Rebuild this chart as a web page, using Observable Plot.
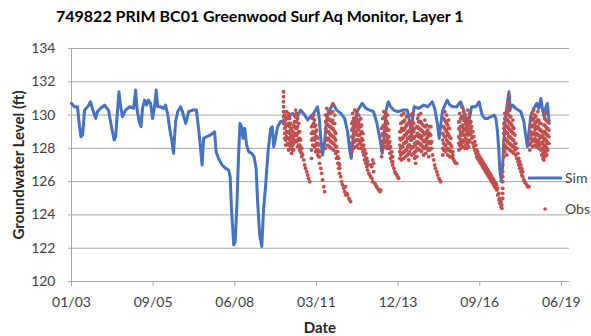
<!DOCTYPE html>
<html>
<head>
<meta charset="utf-8">
<script src="https://cdn.jsdelivr.net/npm/d3@7"></script>
<script src="https://cdn.jsdelivr.net/npm/@observablehq/plot@0.6"></script>
<style>
  html, body { margin: 0; padding: 0; background: #fff; }
  #wrap { position: relative; width: 591px; height: 336px; font-family: Lato, "Open Sans", sans-serif; overflow: hidden; }
  #title { position: absolute; left: 56px; top: 0; height: 30px; line-height: 32px; text-align: left;
           font-weight: bold; font-size: 16px; color: #000; white-space: nowrap; }
  #chart { position: absolute; left: 0; top: 30px; }
  #ylabel { position: absolute; left: 18px; top: 165px; transform: translate(-50%, -50%) rotate(-90deg);
            font-weight: bold; font-size: 15px; color: #262626; white-space: nowrap; }
  #xlabel { position: absolute; left: 320px; top: 327px; transform: translate(-50%, -50%);
            font-weight: bold; font-size: 15px; color: #262626; white-space: nowrap; }
  #legend { position: absolute; left: 527px; top: 170px; }
  #legend text { font-family: Lato, "Open Sans", sans-serif; font-size: 14px; fill: #404040; }
</style>
</head>
<body>
<div id="wrap">
  <div id="title">749822 PRIM BC01 Greenwood Surf Aq Monitor, Layer 1</div>
  <div id="chart"></div>
  <div id="ylabel">Groundwater Level (ft)</div>
  <div id="xlabel">Date</div>
  <div id="legend">
    <svg width="64" height="52">
      <line x1="1" y1="8" x2="35" y2="8" stroke="#4472C4" stroke-width="3"></line>
      <text x="38" y="13">Sim</text>
      <circle cx="18" cy="39" r="1.8" fill="#C0504D"></circle>
      <text x="38" y="44">Obs</text>
    </svg>
  </div>
</div>
<script>
// ---- data (decimal year, groundwater level ft) ----
const seriesNames = ["Sim", "Obs"];
const yTicks = [120, 122, 124, 126, 128, 130, 132, 134];
const xTickLabels = ["01/03", "09/05", "06/08", "03/11", "12/13", "09/16", "06/19"];

const simSeries = [
  [2003.00,130.7],[2003.10,130.5],[2003.20,130.5],[2003.27,129.3],[2003.32,128.7],[2003.37,128.8],
  [2003.44,130.3],[2003.54,130.5],[2003.64,130.8],[2003.70,130.4],[2003.81,129.8],[2003.87,130.2],
  [2003.97,130.4],[2004.11,130.6],[2004.24,130.3],[2004.34,129.3],[2004.43,128.5],[2004.48,128.7],
  [2004.54,130.2],[2004.59,131.4],[2004.64,130.6],[2004.71,129.9],[2004.81,130.3],[2004.95,130.5],
  [2005.08,130.4],[2005.15,131.5],[2005.20,130.3],[2005.27,129.6],[2005.33,129.3],[2005.38,130.4],
  [2005.45,130.9],[2005.52,130.6],[2005.58,130.9],[2005.65,130.7],[2005.72,129.8],[2005.79,130.6],
  [2005.84,131.5],[2005.89,130.5],[2005.99,130.5],[2006.09,130.4],[2006.15,130.6],[2006.22,130.1],
  [2006.29,129.2],[2006.36,128.5],[2006.42,127.7],[2006.49,129.6],[2006.56,130.2],[2006.66,130.5],
  [2006.72,130.2],[2006.83,129.5],[2006.93,130.2],[2007.06,130.3],[2007.19,130.3],[2007.28,128.9],
  [2007.38,127.0],[2007.43,128.6],[2007.53,128.7],[2007.66,128.8],[2007.80,129.0],[2007.85,127.8],
  [2007.93,127.4],[2008.05,127.0],[2008.17,126.8],[2008.27,126.7],[2008.32,126.3],[2008.37,124.2],
  [2008.44,122.2],[2008.49,122.4],[2008.55,124.8],[2008.60,127.5],[2008.65,129.5],[2008.70,129.3],
  [2008.75,128.6],[2008.81,129.2],[2008.87,128.2],[2008.94,127.8],[2009.04,127.7],[2009.12,127.5],
  [2009.19,126.8],[2009.24,124.8],[2009.31,122.8],[2009.38,122.1],[2009.44,124.3],[2009.51,125.8],
  [2009.59,127.8],[2009.68,129.2],[2009.73,129.3],[2009.78,128.1],[2009.84,128.6],[2009.91,129.3],
  [2010.01,129.6],[2010.15,129.7],[2010.28,129.9],[2010.42,130.1],[2010.55,129.8],[2010.68,130.3],
  [2010.82,130.0],[2010.92,129.7],[2011.02,129.9],[2011.12,130.1],[2011.25,130.5],[2011.31,129.8],
  [2011.36,128.6],[2011.42,127.6],[2011.49,128.4],[2011.57,129.9],[2011.66,130.3],[2011.77,130.7],
  [2011.89,130.3],[2012.03,130.1],[2012.16,129.8],[2012.26,129.0],[2012.33,127.9],[2012.38,127.4],
  [2012.43,128.3],[2012.50,129.6],[2012.60,130.3],[2012.75,130.7],[2012.87,130.4],[2013.00,130.3],
  [2013.13,130.2],[2013.23,129.6],[2013.34,128.6],[2013.42,127.7],[2013.49,128.8],[2013.55,130.3],
  [2013.62,130.8],[2013.70,130.5],[2013.81,130.3],[2013.94,130.2],[2014.11,130.3],[2014.26,130.3],
  [2014.34,129.6],[2014.40,128.7],[2014.44,129.8],[2014.49,130.5],[2014.64,130.4],[2014.81,130.6],
  [2014.95,130.5],[2015.10,130.8],[2015.18,130.4],[2015.27,129.5],[2015.33,128.6],[2015.38,129.4],
  [2015.45,130.3],[2015.60,130.9],[2015.69,130.6],[2015.79,130.5],[2015.92,130.5],[2016.05,130.8],
  [2016.15,130.3],[2016.27,129.1],[2016.34,129.8],[2016.42,130.5],[2016.56,130.5],[2016.67,130.8],
  [2016.77,130.0],[2016.86,129.8],[2016.96,129.8],[2017.06,129.9],[2017.17,130.0],[2017.23,129.8],
  [2017.28,129.1],[2017.33,127.9],[2017.36,126.8],[2017.41,126.0],[2017.46,127.0],[2017.53,129.5],
  [2017.60,130.5],[2017.67,131.4],[2017.71,130.4],[2017.79,130.6],[2017.90,130.4],[2018.07,130.2],
  [2018.17,129.6],[2018.23,128.8],[2018.29,128.1],[2018.33,128.8],[2018.40,129.9],[2018.50,130.4],
  [2018.60,130.7],[2018.67,130.4],[2018.74,131.0],[2018.79,130.4],[2018.85,129.9],[2018.91,130.5],
  [2018.96,130.7],[2019.02,129.5]
];

const obsColumns = [
  // 2010 cycle
  [2010.11,[131.4,131.1,130.8,130.5,130.2,129.9,129.5]],
  [2010.15,[130.0,129.6,129.2,128.9,128.6]],[2010.18,[129.7,129.3,128.9,128.5,128.2]],
  [2010.21,[130.2,129.8,129.4,129.0,128.7]],[2010.25,[129.9,129.4,129.0,128.6,128.3]],
  [2010.28,[130.1,129.8,129.5,129.0,128.6,128.2,127.9]],[2010.32,[129.8,129.3,128.9,128.5,128.2]],
  [2010.35,[129.5,129.1,128.7,128.3,128.0]],[2010.38,[129.2,128.8,128.4,128.0,127.7]],
  [2010.42,[129.0,128.6,128.2,127.9]],[2010.45,[129.4,128.7,128.3,127.9]],
  [2010.48,[130.0,129.6,129.3,128.9,128.5]],[2010.52,[130.3,129.9,129.6,129.2,128.8]],
  [2010.55,[130.1,129.6,129.2,128.8,128.4]],[2010.58,[129.8,129.3,128.9,128.5,128.1]],
  [2010.62,[129.5,129.0,128.6,128.2]],[2010.65,[129.0,128.6,128.2,127.9]],
  [2010.68,[128.5,128.1,127.8]],[2010.72,[128.0,127.7,127.5]],[2010.75,[127.6]],
  [2010.79,[127.3]],[2010.82,[127.0]],[2010.85,[126.8]],[2010.89,[126.6]],[2010.92,[126.4]],
  [2010.95,[126.2]],[2010.99,[126.0]],
  // 2011 spring
  [2011.05,[127.4,127.9,128.5,128.9,129.3]],[2011.09,[128.2,128.6,129.0,129.4,129.8]],
  [2011.12,[128.6,129.0,129.5,130.0]],[2011.15,[128.1,128.5,128.9,129.3,129.7]],
  [2011.19,[127.8,128.2,128.7,129.0,129.4]],[2011.22,[127.9,128.3,128.7,129.1]],
  [2011.26,[127.6,127.9,128.3,128.6]],[2011.29,[127.5,127.8,128.2]],[2011.32,[127.1,127.5,127.8]],
  [2011.36,[126.8]],[2011.39,[126.5]],[2011.42,[126.1]],[2011.46,[125.7]],[2011.49,[125.4]],
  // 2011-2012
  [2011.52,[128.0,128.6,129.2,129.6,130.0]],[2011.56,[128.5,129.0,129.6,130.0,130.4]],
  [2011.59,[128.2,128.6,129.0,129.4,129.8]],[2011.62,[128.6,129.0,129.4,129.8,130.2]],
  [2011.66,[128.1,128.5,128.9,129.3,129.7]],[2011.69,[128.4,128.8,129.3,129.7,130.1]],
  [2011.72,[128.0,128.4,128.8,129.2,129.6]],[2011.76,[128.3,128.7,129.2,129.7,130.2,130.6]],
  [2011.79,[127.9,128.3,128.7,129.1,129.5]],[2011.83,[128.2,128.6,129.0,129.5,130.0]],
  [2011.86,[127.7,128.1,128.5,128.9]],[2011.89,[127.4,127.8,128.1]],[2011.93,[127.1,127.5,127.8]],
  [2011.96,[126.8,127.1,127.4]],[2011.99,[126.5,126.8,127.0]],[2012.03,[126.3]],
  [2012.06,[126.0]],[2012.09,[125.8]],[2012.13,[125.6]],[2012.16,[125.4]],[2012.19,[125.2,125.7]],
  [2012.23,[125.3]],[2012.26,[125.2]],[2012.30,[125.0]],[2012.33,[124.9]],[2012.36,[124.8]],
  // 2012-2013
  [2012.40,[127.8,128.3,128.7,129.1,129.5]],[2012.43,[128.3,128.7,129.2,129.6,130.1]],
  [2012.46,[128.0,128.4,128.9,129.3,129.8]],[2012.50,[128.4,128.8,129.3,129.8,130.3]],
  [2012.53,[128.1,128.5,129.0,129.4,129.7]],[2012.56,[128.5,128.9,129.4,129.8,130.2]],
  [2012.60,[128.2,128.5,128.8,129.2,129.6]],[2012.63,[128.0,128.5,129.1,129.5,130.0]],
  [2012.66,[128.3,128.8,129.3,129.7]],[2012.70,[128.0,128.4,128.9,129.3,129.8]],
  [2012.73,[128.2,128.6,129.0,129.4]],[2012.77,[127.8,128.1,128.5,128.9]],
  [2012.80,[127.6,127.9,128.2]],[2012.83,[127.3,127.6,127.9]],[2012.87,[127.1,127.4,127.7]],
  [2012.90,[126.9,127.1,127.4]],[2012.93,[126.7,127.0,127.2]],[2012.97,[126.5]],[2013.00,[126.4]],
  [2013.03,[126.3,127.0]],[2013.07,[126.2,126.9]],[2013.10,[126.0,127.3]],[2013.13,[126.6,127.1]],
  [2013.17,[125.9]],[2013.20,[125.8]],[2013.23,[125.7]],[2013.27,[125.6]],[2013.30,[125.5]],
  [2013.34,[125.4]],[2013.37,[125.5]],
  // 2013
  [2013.40,[127.5,127.9,128.4,128.8,129.2]],[2013.44,[128.0,128.4,128.9,129.3,129.8]],
  [2013.47,[128.3,128.8,129.4,129.8,130.2]],[2013.50,[128.1,128.5,129.0,129.4,129.9]],
  [2013.54,[128.4,128.8,129.3,129.7,130.1]],[2013.57,[128.0,128.4,128.8,129.2,129.6]],
  [2013.60,[128.2,128.6,129.1,129.5,130.0]],[2013.64,[128.0,128.3,128.7,129.1]],
  [2013.67,[127.7,128.0,128.4]],[2013.70,[127.4,127.7,128.1]],[2013.74,[127.2,127.5,127.8]],
  [2013.77,[127.0,127.2,127.5]],[2013.81,[126.8]],[2013.84,[126.6]],[2013.87,[126.5]],
  [2013.91,[126.4]],[2013.94,[126.3]],[2013.97,[126.2]],
  // 2014-2015
  [2014.01,[127.4,127.8,128.2,128.6,129.0]],[2014.04,[127.6,128.0,128.5,129.0,129.5]],
  [2014.07,[127.3,127.7,128.1,128.6,129.2,130.0]],[2014.11,[127.7,128.1,128.6,129.1,129.6]],
  [2014.14,[127.4,127.8,128.3,128.7,129.1,129.6,130.1]],[2014.17,[127.8,128.3,128.8,129.2,129.7]],
  [2014.21,[127.5,127.9,128.4,128.8,129.3]],[2014.24,[127.9,128.4,128.9,129.4,129.9]],
  [2014.27,[127.6,128.1,128.6,129.0,129.5]],[2014.31,[127.3,127.7,128.2,128.6,129.0]],
  [2014.34,[127.8,128.2,128.7,129.1,129.6]],[2014.38,[128.0,128.5,129.0,129.5,130.0]],
  [2014.41,[127.6,128.0,128.5,128.9,129.4]],[2014.44,[128.1,128.6,129.1,129.6,130.1]],
  [2014.48,[127.7,128.1,128.6,129.0,129.5]],[2014.51,[127.4,127.8,128.3,128.7,129.2]],
  [2014.54,[127.1,127.5,127.8,128.2]],[2014.58,[127.5,127.9,128.4,128.8,129.3]],
  [2014.61,[128.0,128.4,128.9,129.3,129.8]],[2014.64,[128.3,128.7,129.2,129.6,130.0]],
  [2014.68,[127.9,128.3,128.8,129.2,129.6]],[2014.71,[128.2,128.6,129.1,129.6,130.1]],
  [2014.74,[127.8,128.2,128.7,129.1,129.5]],[2014.78,[128.1,128.5,129.0,129.4]],
  [2014.81,[127.6,128.0,128.4,128.8]],[2014.85,[128.0,128.4,128.9,129.3,129.7]],
  [2014.88,[127.7,128.1,128.5,128.9,129.3]],[2014.91,[128.2,128.6,129.0,129.4]],
  [2014.95,[127.9,128.3,128.7,129.1]],[2014.98,[127.5,128.0,128.4,128.8]],
  [2015.01,[127.9,128.4,128.9,129.3]],[2015.05,[128.3,128.8,129.3]],[2015.08,[128.0,128.4]],
  [2015.11,[127.6]],[2015.15,[127.3]],[2015.18,[127.0]],[2015.21,[126.8]],[2015.25,[126.6]],
  [2015.28,[126.4]],[2015.32,[126.2]],[2015.35,[126.1]],[2015.38,[126.0]],
  // 2015
  [2015.45,[127.6,128.0,128.5,128.9,129.3]],[2015.48,[127.9,128.3,128.8,129.3,129.8]],
  [2015.52,[128.2,128.7,129.2,129.7,130.2]],[2015.55,[127.8,128.2,128.7,129.1,129.6]],
  [2015.58,[128.0,128.5,129.0,129.5,130.0]],[2015.62,[127.6,128.0,128.4,128.9,129.4]],
  [2015.65,[127.9,128.3,128.8,129.2,129.7]],[2015.68,[127.5,127.9,128.3,128.7,129.2]],
  [2015.72,[127.8,128.2,128.6]],[2015.75,[127.5,127.8,128.1]],[2015.79,[127.4,127.6,127.8]],
  [2015.82,[127.3]],[2015.85,[127.2]],[2015.89,[127.1]],[2015.92,[127.1]],
  // 2016-2017
  [2015.99,[127.9,128.3,128.7,129.2,129.6]],[2016.02,[128.2,128.6,129.1,129.6,130.1]],
  [2016.05,[128.0,128.4,128.9,129.3,129.8]],[2016.09,[128.3,128.8,129.3,129.9,130.5]],
  [2016.12,[128.1,128.5,129.0,129.4,129.9]],[2016.15,[128.4,128.8,129.2,129.7,130.2]],
  [2016.19,[128.0,128.4,128.8,129.2,129.7]],[2016.22,[128.2,128.6,129.1,129.5,130.0]],
  [2016.26,[128.0,128.4,128.9,129.2,129.6]],[2016.29,[128.3,128.8,129.4,129.8,130.3]],
  [2016.32,[128.1,128.5,129.0,129.4,129.8]],[2016.36,[128.4,128.9,129.5,130.1]],
  [2016.39,[128.8,129.2,129.6]],[2016.42,[128.6,129.0,129.3]],[2016.46,[128.3,129.0]],
  [2016.49,[128.1,128.7]],[2016.52,[127.9,128.4]],[2016.56,[127.7,128.2]],[2016.59,[127.5,127.9]],
  [2016.62,[127.4,127.8]],[2016.66,[127.3,127.6]],[2016.69,[127.2,127.5]],[2016.72,[127.1,127.4]],
  [2016.76,[127.0,127.3]],[2016.79,[126.9,127.2]],[2016.82,[126.8,127.1]],[2016.86,[126.7,127.0]],
  [2016.89,[126.6,126.9]],[2016.92,[126.5,126.8]],[2016.96,[126.4,126.7]],[2016.99,[126.3,126.6]],
  [2017.03,[126.2,126.5]],[2017.06,[126.1,126.4]],[2017.09,[126.0,126.3]],[2017.13,[125.9,126.2]],
  [2017.16,[125.8,126.1]],[2017.19,[125.7,126.0]],[2017.23,[125.6,125.9]],[2017.26,[125.5,125.8]],
  [2017.29,[125.2,125.6]],[2017.33,[124.9,125.3]],[2017.36,[124.7,125.0]],[2017.40,[124.5,124.8]],
  [2017.43,[124.4,124.6]],
  // 2017-2018
  [2017.46,[125.0,125.3,125.6,126.0,126.3,126.6,127.0]],
  [2017.50,[127.5,127.8,128.2,128.5,128.9,129.2,129.5]],
  [2017.53,[127.8,128.2,128.6,129.0,129.4,129.8,130.1]],[2017.56,[128.1,128.5,129.0,129.4,129.8]],
  [2017.60,[127.6,128.0,128.5,128.9,129.3,129.7,130.2]],
  [2017.63,[128.0,128.4,128.9,129.3,129.7,130.2,130.6]],
  [2017.66,[128.3,128.7,129.2,129.6,130.0,130.4,130.8,131.2]],
  [2017.70,[127.9,128.3,128.7,129.1,129.5,129.9,130.3]],
  [2017.73,[128.2,128.6,129.1,129.5,129.9]],[2017.76,[127.8,128.2,128.6,129.0,129.4]],
  [2017.80,[128.1,128.5,128.9,129.3,129.7]],[2017.83,[127.7,128.1,128.5,128.9,129.2]],
  [2017.87,[127.9,128.3,128.8]],[2017.90,[127.6,128.0,128.3]],[2017.93,[127.4,128.0]],
  [2017.97,[127.2,127.7]],[2018.00,[127.0,127.4]],[2018.03,[126.8,127.2]],[2018.07,[126.6,127.0]],
  [2018.10,[126.4,126.8]],[2018.13,[126.3,126.6]],[2018.17,[126.1]],[2018.20,[126.0]],
  [2018.23,[125.9]],[2018.27,[125.8]],[2018.30,[125.7]],[2018.34,[125.7]],
  // 2018-2019
  [2018.37,[127.9,128.3,128.6,129.0,129.3]],[2018.40,[128.2,128.6,129.0,129.4,129.8]],
  [2018.44,[128.4,128.8,129.3,129.7,130.1]],[2018.47,[128.1,128.5,128.9,129.3,129.7]],
  [2018.50,[128.5,128.9,129.4,129.8,130.3]],[2018.54,[128.2,128.6,129.1,129.5,130.0]],
  [2018.57,[128.4,128.8,129.2,129.6,129.9]],[2018.60,[128.1,128.5,128.9,129.3,129.6]],
  [2018.64,[128.3,128.8,129.3,129.7,130.2]],[2018.67,[128.0,128.4,128.8,129.2,129.7]],
  [2018.70,[128.2,128.6,129.1,129.5]],[2018.74,[127.9,128.3,128.7,129.1,129.5]],
  [2018.77,[127.6,128.0,128.3,128.7,129.0]],[2018.81,[127.4,127.7,128.0,128.4,128.8]],
  [2018.84,[127.3,127.6,127.9,128.2,128.6,129.0,129.4]],
  [2018.87,[127.5,127.8,128.2,128.6,129.0,129.4,129.8]],
  [2018.91,[127.8,128.1,128.5,128.9,129.3,129.7,130.1]],
  [2018.94,[127.6,128.0,128.4,128.8,129.2]],[2018.97,[127.9,128.3,128.8,129.2,129.6]],
  [2019.01,[128.3,128.7,129.1]]
];

// ---- build tables ----
function toDate(y) {
  const yr = Math.floor(y);
  const a = Date.UTC(yr, 0, 1), b = Date.UTC(yr + 1, 0, 1);
  return new Date(a + (y - yr) * (b - a));
}
const sim = simSeries.map(([y, v]) => ({date: toDate(y), level: v, series: seriesNames[0]}));
const obs = obsColumns.flatMap(([y, vs]) => vs.map(v => ({date: toDate(y), level: v, series: seriesNames[1]})));

const DAY = 864e5;
const start = new Date(Date.UTC(2003, 0, 1));
const xTicks = xTickLabels.map((_, i) => new Date(+start + i * 1000 * DAY));
const end = new Date(+start + 6100 * DAY);
const grid = "#a6a6a6";

const chart = Plot.plot({
  width: 591,
  height: 306,
  marginTop: 18,
  marginBottom: 55,
  marginLeft: 71,
  marginRight: 22,
  style: {fontFamily: "Lato, 'Open Sans', sans-serif", fontSize: "14px", color: "#404040", background: "#fff"},
  x: {type: "utc", domain: [start, end]},
  y: {domain: [120, 134]},
  marks: [
    Plot.gridY(yTicks, {stroke: grid, strokeOpacity: 1, strokeWidth: 1}),
    Plot.axisY(yTicks, {tickSize: 3, tickPadding: 13, stroke: grid, label: null, tickFormat: d => String(d)}),
    Plot.axisX(xTicks, {tickSize: 5, tickPadding: 11, stroke: grid, label: null,
                        tickFormat: (d, i) => xTickLabels[i]}),
    Plot.ruleX([start], {stroke: grid, strokeWidth: 1}),
    Plot.ruleY([120], {stroke: grid, strokeWidth: 1}),
    Plot.line(sim, {x: "date", y: "level", stroke: "#4472C4", strokeWidth: 3, strokeLinejoin: "round"}),
    Plot.dot(obs, {x: "date", y: "level", r: 1.9, fill: "#C0504D", stroke: "none"})
  ]
});
document.getElementById("chart").appendChild(chart);
</script>
</body>
</html>
